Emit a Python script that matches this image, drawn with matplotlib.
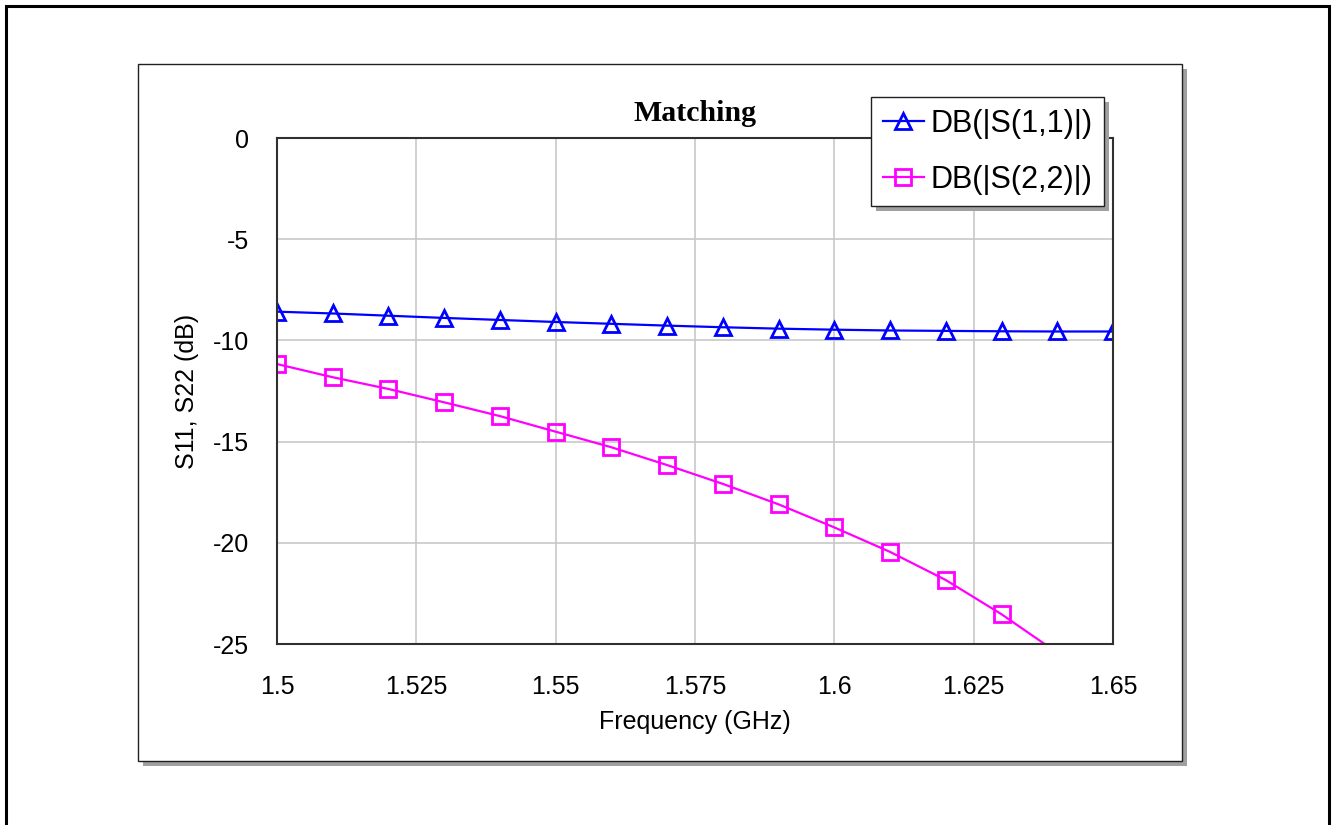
import matplotlib
matplotlib.use("Agg")
import matplotlib.pyplot as plt
from matplotlib.patches import Rectangle
import numpy as np

freq = [1.50, 1.51, 1.52, 1.53, 1.54, 1.55, 1.56, 1.57, 1.58, 1.59, 1.60, 1.61, 1.62, 1.63, 1.64, 1.65]
s11 = [-8.58, -8.67, -8.78, -8.89, -8.99, -9.09, -9.18, -9.27, -9.35, -9.42, -9.47, -9.51, -9.53, -9.55, -9.56, -9.56]
s22 = [-11.17, -11.82, -12.40, -13.06, -13.74, -14.51, -15.28, -16.16, -17.09, -18.10, -19.24, -20.45, -21.84, -23.53, -25.43, -27.6]
xticks = [1.5, 1.525, 1.55, 1.575, 1.6, 1.625, 1.65]
xticklabels = ["1.5", "1.525", "1.55", "1.575", "1.6", "1.625", "1.65"]
yticks = [0, -5, -10, -15, -20, -25]
yticklabels = ["0", "-5", "-10", "-15", "-20", "-25"]
labels = ["DB(|S(1,1)|)", "DB(|S(2,2)|)"]

W, H = 1333, 825
fig = plt.figure(figsize=(W / 100, H / 100), dpi=100)
plt.rcParams['font.family'] = ['Liberation Sans', 'DejaVu Sans']

def px_rect(x0, y0, x1, y1, **kw):
    return Rectangle((x0 / W, 1 - y1 / H), (x1 - x0) / W, (y1 - y0) / H,
                     transform=fig.transFigure, figure=fig, **kw)

# outer border
fig.patches.append(px_rect(6, 6, 1329, 840, fill=False, edgecolor='black', linewidth=2.2, zorder=-3))
# inner panel shadow + panel
fig.patches.append(px_rect(143, 69, 1187, 766, facecolor='#a0a0a0', edgecolor='none', zorder=-2))
fig.patches.append(px_rect(138, 64, 1182, 761, facecolor='white', edgecolor='#202020', linewidth=1.0, zorder=-1))

ax = fig.add_axes([277 / W, 1 - 644 / H, (1113 - 277) / W, (644 - 138) / H])
ax.set_zorder(2)
ax.set_facecolor('white')

ax.plot(freq, s11, color='#0000ff', linewidth=1.6, marker='^', markersize=11.5,
        markerfacecolor='none', markeredgecolor='#0000ff', markeredgewidth=2.0,
        label=labels[0], clip_on=True)
ax.plot(freq, s22, color='#ff00ff', linewidth=1.6, marker='s', markersize=12,
        markerfacecolor='none', markeredgecolor='#ff00ff', markeredgewidth=2.0,
        label=labels[1], clip_on=True)

ax.set_xlim(1.5, 1.65)
ax.set_ylim(-25, 0)
ax.set_xticks(xticks)
ax.set_xticklabels(xticklabels)
ax.set_yticks(yticks)
ax.set_yticklabels(yticklabels)
ax.tick_params(axis='both', length=0, labelsize=18)
ax.tick_params(axis='x', pad=22)
ax.tick_params(axis='y', pad=20)
ax.grid(True, color='#c8c8c8', linewidth=1.2)
ax.set_axisbelow(True)
for sp in ax.spines.values():
    sp.set_color('#303030')
    sp.set_linewidth(1.5)

ax.set_xlabel("Frequency (GHz)", fontsize=18, labelpad=8)
ax.set_ylabel("S11, S22 (dB)", fontsize=18, labelpad=10)
ax.set_title("Matching", fontsize=21.5, fontweight='bold', family='Liberation Serif', pad=12)

leg = fig.legend(loc='upper left', bbox_to_anchor=(871 / W, 1 - 97 / H),
                 bbox_transform=fig.transFigure, borderaxespad=0, fontsize=22,
                 handlelength=1.35, handletextpad=0.22, borderpad=0.38, labelspacing=0.85,
                 fancybox=False, framealpha=1, edgecolor='#202020', numpoints=1,
                 markerscale=1.0)
leg.get_frame().set_linewidth(1.0)
leg.set_zorder(6)

fig.canvas.draw()
bb = leg.get_window_extent()
sh = Rectangle((bb.x0 + 5, bb.y0 - 5), bb.width, bb.height, transform=None,
               facecolor='#a0a0a0', edgecolor='none', zorder=5)
sh.set_figure(fig)
fig.artists.append(sh)

fig.savefig("out.png", dpi=100)
